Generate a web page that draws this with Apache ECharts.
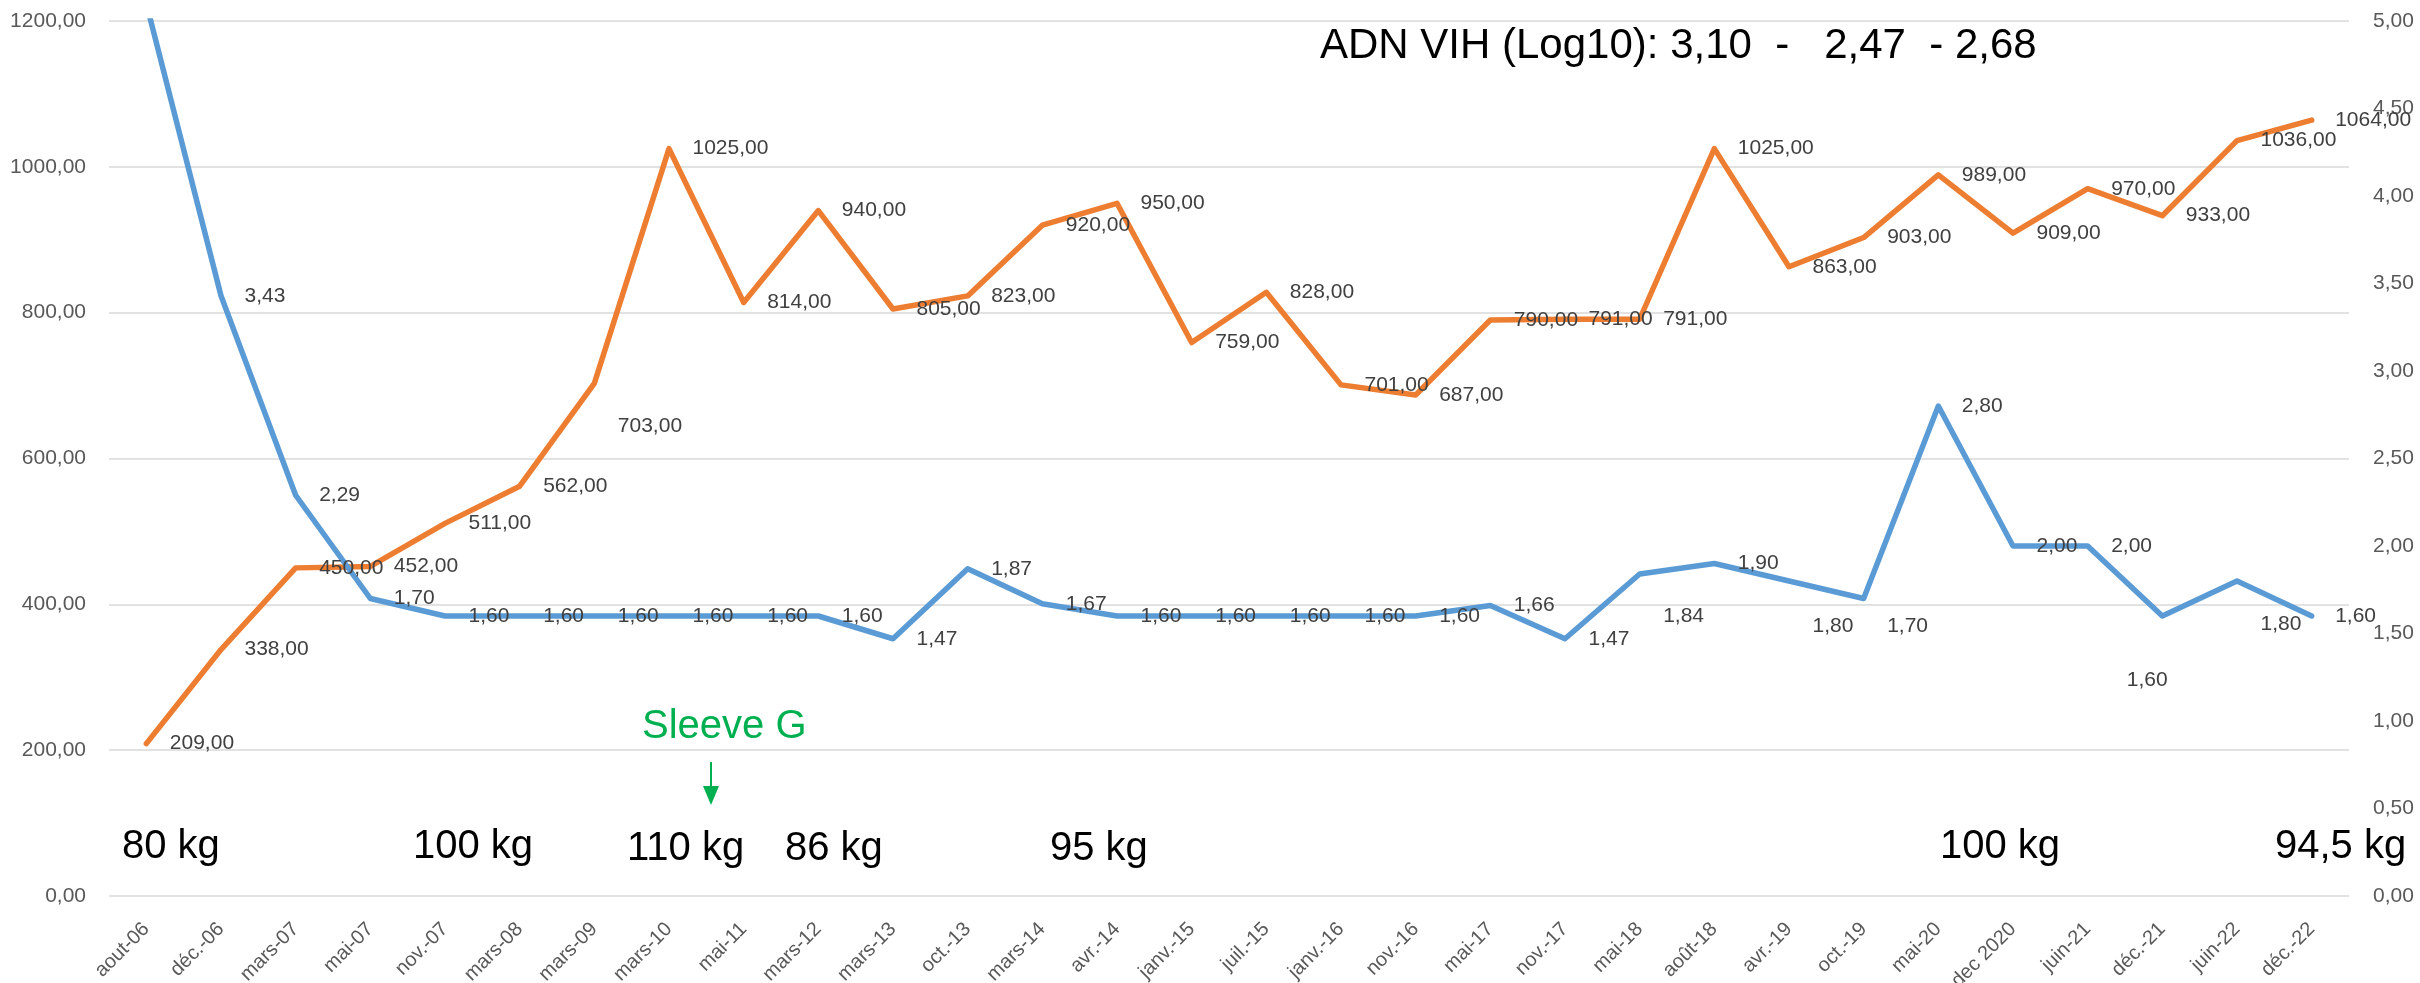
<!DOCTYPE html>
<html>
<head>
<meta charset="utf-8">
<script src="https://cdn.jsdelivr.net/npm/echarts@6/dist/echarts.min.js"></script>
<style>
html,body{margin:0;padding:0;background:#fff;}
#chart{width:2420px;height:983px;}
</style>
</head>
<body>
<div id="chart"></div>
<script>
const categories = ['aout-06','déc.-06','mars-07','mai-07','nov.-07','mars-08','mars-09','mars-10','mai-11','mars-12','mars-13','oct.-13','mars-14','avr.-14','janv.-15','juil.-15','janv.-16','nov.-16','mai-17','nov.-17','mai-18','août-18','avr.-19','oct.-19','mai-20','dec 2020','juin-21','déc.-21','juin-22','déc.-22'];
const cd4Values = [209,338,450,452,511,562,703,1025,814,940,805,823,920,950,759,828,701,687,790,791,791,1025,863,903,989,909,970,933,1036,1064];
const viralValues = [5.10,3.43,2.29,1.70,1.60,1.60,1.60,1.60,1.60,1.60,1.47,1.87,1.67,1.60,1.60,1.60,1.60,1.60,1.66,1.47,1.84,1.90,1.80,1.70,2.80,2.00,2.00,1.60,1.80,1.60];
const leftAxisTicks = [0,200,400,600,800,1000,1200];
const rightAxisTicks = [0,0.5,1,1.5,2,2.5,3,3.5,4,4.5,5];
const titleText = 'ADN VIH (Log10): 3,10  -   2,47  - 2,68';
const weightTexts = ['80 kg','100 kg','110 kg','86 kg','95 kg','100 kg','94,5 kg'];
const sleeveText = 'Sleeve G';

const fmt = v => v.toFixed(2).replace('.', ',');
const FONT = '"Liberation Sans", Arial, sans-serif';

const chart = echarts.init(document.getElementById('chart'), null, {renderer:'canvas'});

// label placement tweaks (pixel shifts), by series then data index
const labelShift = [
  {6:[0,43]},
  {20:[0,42], 22:[0,45], 23:[0,28], 27:[-59,64], 28:[0,43]}
];

const viralData = viralValues.map((v,i) => i === 0 ? {value:v, label:{show:false}} : v);

const weightPos = [[122,847],[413,847],[627,849],[785,849],[1050,849],[1940,847],[2275,847]];

const graphics = [];
graphics.push({type:'text', x:1320, y:46, z:10, style:{text:titleText, font:'42px '+FONT, fill:'#000', verticalAlign:'middle'}});
weightTexts.forEach((t,i)=>{
  graphics.push({type:'text', x:weightPos[i][0], y:weightPos[i][1], z:10,
    style:{text:t, font:'40px '+FONT, fill:'#000', verticalAlign:'middle'}});
});
graphics.push({type:'text', x:642, y:727, z:10, style:{text:sleeveText, font:'40px '+FONT, fill:'#00B050', verticalAlign:'middle'}});
graphics.push({type:'line', z:10, shape:{x1:711,y1:762,x2:711,y2:790}, style:{stroke:'#00B050', lineWidth:2}});
graphics.push({type:'polygon', z:10, shape:{points:[[703,786],[719,786],[711,805]]}, style:{fill:'#00B050'}});

const labelCfg = {show:true, position:'right', distance:23, formatter:p=>fmt(p.value), fontSize:21, color:'#404040', fontFamily:FONT};

const option = {
  animation:false,
  backgroundColor:'#fff',
  grid:{left:109, right:71, top:21, bottom:87, containLabel:false, outerBoundsMode:'none'},
  xAxis:{
    type:'category', data:categories, boundaryGap:true,
    axisLine:{show:false}, axisTick:{show:false},
    axisLabel:{rotate:45, margin:30, fontSize:20, color:'#595959', fontFamily:FONT, interval:0}
  },
  yAxis:[
    {type:'value', min:leftAxisTicks[0], max:leftAxisTicks[leftAxisTicks.length-1], interval:leftAxisTicks[1]-leftAxisTicks[0],
     axisLine:{show:false}, axisTick:{show:false},
     splitLine:{show:true, lineStyle:{color:'#D9D9D9', width:1.5}},
     axisLabel:{formatter:v=>fmt(v), fontSize:21, color:'#595959', fontFamily:FONT, margin:23}},
    {type:'value', min:rightAxisTicks[0], max:rightAxisTicks[rightAxisTicks.length-1], interval:rightAxisTicks[1]-rightAxisTicks[0],
     axisLine:{show:false}, axisTick:{show:false}, splitLine:{show:false},
     axisLabel:{formatter:v=>fmt(v), fontSize:21, color:'#595959', fontFamily:FONT, margin:24}}
  ],
  series:[
    {type:'line', name:'CD4', yAxisIndex:0, data:cd4Values,
     symbol:'circle', symbolSize:1, showSymbol:true, clip:true,
     itemStyle:{color:'#ED7D31'},
     lineStyle:{color:'#ED7D31', width:5.5, cap:'round', join:'round'},
     label:labelCfg,
     labelLayout:p=>{const s=labelShift[0][p.dataIndex]; return s?{dx:s[0],dy:s[1]}:{};}},
    {type:'line', name:'ADN VIH', yAxisIndex:1, data:viralData,
     symbol:'circle', symbolSize:1, showSymbol:true, clip:true,
     itemStyle:{color:'#5B9BD5'},
     lineStyle:{color:'#5B9BD5', width:5.5, cap:'round', join:'round'},
     label:labelCfg,
     labelLayout:p=>{const s=labelShift[1][p.dataIndex]; return s?{dx:s[0],dy:s[1]}:{};}}
  ],
  graphic:graphics
};
chart.setOption(option);
</script>
</body>
</html>
